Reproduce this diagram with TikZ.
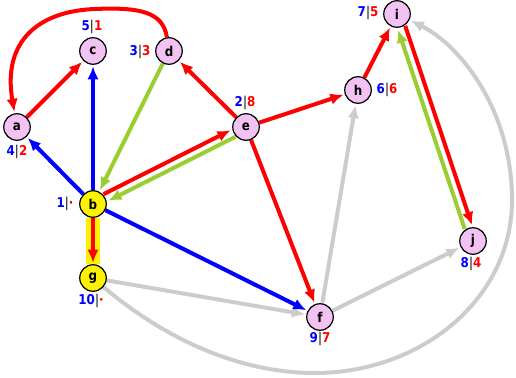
\documentclass[tikz,border=0pt]{standalone}
\usepackage{fontspec}
\setmainfont{DejaVu Sans}
\newfontfamily\lblfont[FakeStretch=0.88]{DejaVu Sans}
\usetikzlibrary{arrows.meta}
\pgfdeclarelayer{bg}
\pgfsetlayers{bg,main}
\definecolor{vpink}{RGB}{242,194,242}
\definecolor{vyellow}{RGB}{255,242,0}
\definecolor{egreen}{RGB}{154,205,50}
\definecolor{egray}{RGB}{204,204,204}
\definecolor{ered}{RGB}{255,0,0}
\definecolor{eblue}{RGB}{0,0,255}
\tikzset{
  vtx/.style={circle, draw=black, line width=1.2pt, fill=vpink, minimum size=26.5pt, inner sep=0pt,
    font=\lblfont\bfseries\fontsize{13.5}{14}\selectfont},
  vtxy/.style={vtx, fill=vyellow},
  lbl/.style={inner sep=0pt, font=\lblfont\bfseries\fontsize{13.5}{14}\selectfont},
  ed/.style={line width=4pt, -{Latex[length=13pt,width=11.5pt]}, shorten >=1.5pt},
  redge/.style={ed, draw=ered},
  bedge/.style={ed, draw=eblue},
  gedge/.style={ed, draw=egreen},
  yedge/.style={ed, draw=egray},
}
\newcommand{\lab}[2]{\textcolor{eblue}{#1}\textcolor{black}{\mdseries|}\textcolor{ered}{#2}}
\begin{document}
\begin{tikzpicture}[x=1pt,y=-1pt]
\useasboundingbox (0,0) rectangle (516,377);
% nodes
\node[vtx]  (a) at (17,127) {a};
\node[vtxy] (b) at (93,204) {b};
\node[vtx]  (c) at (93,51)  {c};
\node[vtx]  (d) at (169,51) {d};
\node[vtx]  (e) at (246,127) {e};
\node[vtx]  (f) at (320,317) {f};
\node[vtxy] (g) at (93,278) {g};
\node[vtx]  (h) at (358,90) {h};
\node[vtx]  (i) at (397,14) {i};
\node[vtx]  (j) at (473,241) {j};
% labels
\node[lbl] (la) at (17,152) {\lab{4}{2}};
\node[lbl] (lb) at (65,204) {\lab{1}{·}};
\node[lbl] (lc) at (92,27)  {\lab{5}{1}};
\node[lbl] (ld) at (140,52) {\lab{3}{3}};
\node[lbl] (le) at (245,103) {\lab{2}{8}};
\node[lbl] (lf) at (320,339) {\lab{9}{7}};
\node[lbl] (lg) at (91,301) {\lab{10}{·}};
\node[lbl] (lh) at (387,90) {\lab{6}{6}};
\node[lbl] (li) at (368,13) {\lab{7}{5}};
\node[lbl] (lj) at (471,264) {\lab{8}{4}};
% edges
\begin{pgfonlayer}{bg}
\draw[line width=14pt, vyellow] (b) -- (g);
% gray
\draw[yedge] (g) -- (f);
\draw[yedge] (f) -- (h);
\draw[yedge] (f) -- (j);
\draw[yedge] (g) .. controls (160,335) and (235,373) .. (315,373)
   .. controls (420,373) and (512,300) .. (512,200)
   .. controls (512,110) and (460,45) .. (i);
% blue
\draw[bedge] (b) -- (a);
\draw[bedge] (b) -- (c);
\draw[bedge] (b) -- (f);
% green
\draw[gedge] (d) -- (b);
\draw[gedge, transform canvas={xshift=1.8pt, yshift=-3.6pt}] (e) -- (b);
\draw[gedge, transform canvas={xshift=-3.8pt, yshift=-1.3pt}] (j) -- (i);
% red
\draw[redge] (a) -- (c);
\draw[redge] (d) .. controls (163,12) and (140,7) .. (95,9)
   .. controls (40,11) and (2,40) .. (a);
\draw[redge, transform canvas={xshift=-1.8pt, yshift=3.6pt}] (b) -- (e);
\draw[redge] (e) -- (d);
\draw[redge] (e) -- (h);
\draw[redge] (e) -- (f);
\draw[redge] (h) -- (i);
\draw[redge, transform canvas={xshift=3.8pt, yshift=1.3pt}] (i) -- (j);
\draw[redge] (b) -- (g);
\end{pgfonlayer}
\end{tikzpicture}
\end{document}
